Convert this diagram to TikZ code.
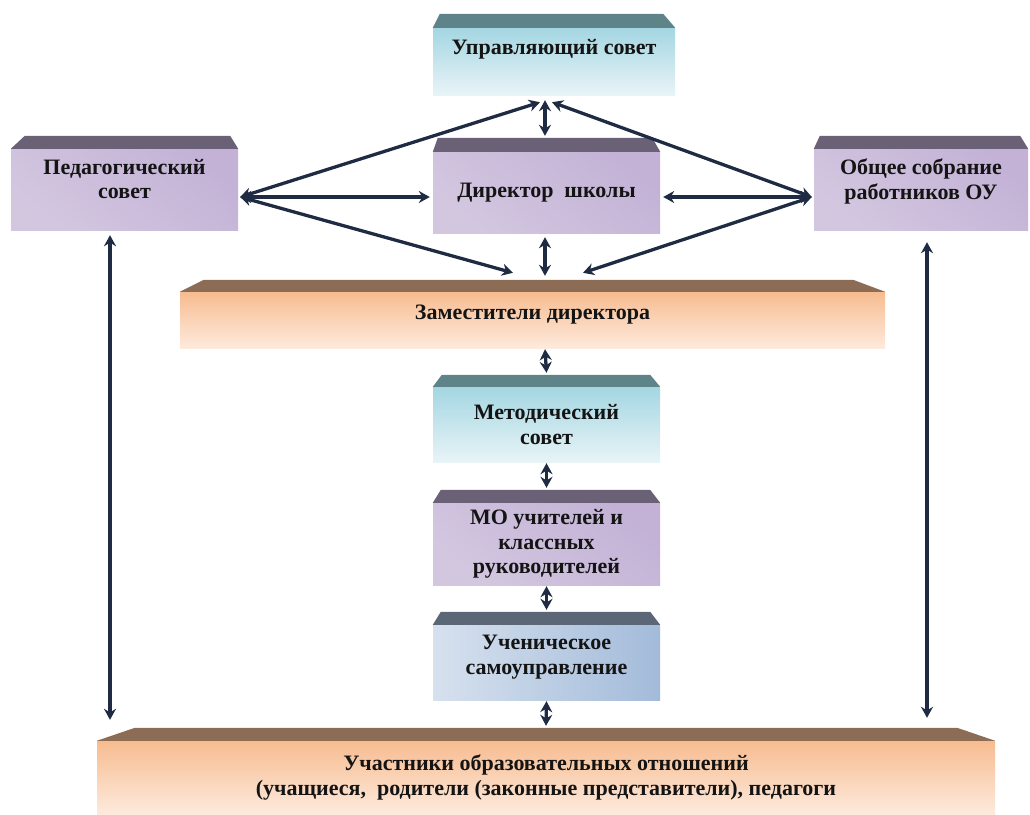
\documentclass[tikz,border=0pt]{standalone}
\usepackage{fontspec}
\setmainfont{Liberation Serif}
\usetikzlibrary{positioning, arrows.meta}

\definecolor{textdark}{HTML}{141414}
\definecolor{arrowcol}{HTML}{1E2B42}
\definecolor{tealtop}{HTML}{A4D6E2}
\definecolor{tealbot}{HTML}{E8F4F7}
\definecolor{tealedge}{HTML}{5E8489}
\definecolor{purpletop}{HTML}{C3B2D6}
\definecolor{purplemid}{HTML}{EBE6F0}
\definecolor{purplebot}{HTML}{D3C7E0}
\definecolor{purpleedge}{HTML}{6B6176}
\definecolor{peachtop}{HTML}{F7BC90}
\definecolor{peachbot}{HTML}{FDEADD}
\definecolor{peachedge}{HTML}{8D6C55}
\definecolor{bluetop}{HTML}{A3BBDA}
\definecolor{bluebot}{HTML}{D6E1EE}
\definecolor{blueedge}{HTML}{5B6777}

\begin{document}
\begin{tikzpicture}[x=1pt,y=-1pt]
        % Define styles for shapes
        \tikzstyle{box} = [minimum width=227pt, minimum height=81pt, align=center, inner sep=2pt, text=textdark, font=\fontsize{22}{24.5}\selectfont\bfseries]
        \tikzstyle{tealbox} = [box, top color=tealtop, bottom color=tealbot]
        \tikzstyle{purplebox} = [box, shading=axis, top color=purpletop, middle color=purplemid, bottom color=purplebot, shading angle=-40]
        \tikzstyle{peachbox} = [box, top color=peachtop, bottom color=peachbot]
        \tikzstyle{bluebox} = [box, left color=bluebot, right color=bluetop]
        \tikzstyle{link} = [line width=3.3pt, draw=arrowcol, >={Stealth[length=11pt,width=12pt]}, <->]
        \useasboundingbox (0,0) rectangle (1030,814);

        % Draw shapes
        \node[tealbox, minimum width=242pt, minimum height=67pt, text depth=29pt] (upr) at (554, 61.5) {Управляющий совет};
        \node[purplebox, text depth=21pt] (ped) at (124.5, 189.5) {Педагогический\\совет};
        \node[purplebox] (dir) at (546.5, 192.5) {Директор \ школы};
        \node[purplebox, minimum width=214pt, text depth=21pt] (obsh) at (921, 189.5) {Общее собрание\\работников ОУ};
        \node[peachbox, minimum width=705pt, minimum height=56pt, text depth=16pt] (zam) at (532.5, 320) {Заместители директора};
        \node[tealbox, minimum height=75pt] (metod) at (546.5, 424.5) {Методический\\совет};
        \node[purplebox, minimum height=82pt] (mo) at (546.5, 544) {МО учителей и\\классных\\руководителей};
        \node[bluebox, minimum height=75pt, text depth=15pt] (uchen) at (546.5, 662.5) {Ученическое\\самоуправление};
        \node[peachbox, minimum width=898pt, minimum height=73pt] (uch) at (546, 777.5) {Участники образовательных отношений\\(учащиеся, \ родители (законные представители), педагоги};

        % top edges of the boxes
        \fill[tealedge] (upr.north west) -- ++(7,-14) -- ([xshift=-12pt,yshift=14pt]upr.north east) -- (upr.north east) -- cycle;
        \fill[purpleedge] (ped.north west) -- ++(14,-13) -- ([xshift=-8pt,yshift=13pt]ped.north east) -- (ped.north east) -- cycle;
        \fill[purpleedge] (dir.north west) -- ++(5,-14) -- ([xshift=-8pt,yshift=14pt]dir.north east) -- (dir.north east) -- cycle;
        \fill[purpleedge] (obsh.north west) -- ++(6,-13) -- ([xshift=-8pt,yshift=13pt]obsh.north east) -- (obsh.north east) -- cycle;
        \fill[peachedge] (zam.north west) -- ++(24,-12) -- ([xshift=-32pt,yshift=12pt]zam.north east) -- (zam.north east) -- cycle;
        \fill[tealedge] (metod.north west) -- ++(9,-12) -- ([xshift=-10pt,yshift=12pt]metod.north east) -- (metod.north east) -- cycle;
        \fill[purpleedge] (mo.north west) -- ++(8,-13) -- ([xshift=-10pt,yshift=13pt]mo.north east) -- (mo.north east) -- cycle;
        \fill[blueedge] (uchen.north west) -- ++(8,-13) -- ([xshift=-10pt,yshift=13pt]uchen.north east) -- (uchen.north east) -- cycle;
        \fill[peachedge] (uch.north west) -- ++(38,-13) -- ([xshift=-38pt,yshift=13pt]uch.north east) -- (uch.north east) -- cycle;

        % Draw arrows
        \draw[link] ([xshift=-9pt,yshift=-5pt]upr.south) -- ([xshift=-1.5pt,yshift=16pt]dir.north);
        \draw[link] ([xshift=2pt,yshift=-7.5pt]ped.east) -- ([xshift=-14pt,yshift=-7pt]upr.south);
        \draw[link] ([xshift=2pt,yshift=-7.5pt]ped.east) -- ([xshift=-3pt,yshift=-4.5pt]dir.west);
        \draw[link] ([xshift=2pt,yshift=-7.5pt]ped.east) -- ([xshift=-19.5pt,yshift=19pt]zam.north);
        \draw[link] ([xshift=-2pt,yshift=-7.5pt]obsh.west) -- ([xshift=-2pt,yshift=-7pt]upr.south);
        \draw[link] ([xshift=-2pt,yshift=-7.5pt]obsh.west) -- ([xshift=3pt,yshift=-4.5pt]dir.east);
        \draw[link] ([xshift=-2pt,yshift=-7.5pt]obsh.west) -- ([xshift=50.5pt,yshift=19pt]zam.north);
        \draw[link] ([xshift=-1.5pt,yshift=-4pt]dir.south) -- ([xshift=12.5pt,yshift=16pt]zam.north);
        \draw[link] ([xshift=12.5pt,yshift=-1pt]zam.south) -- ([yshift=14pt]metod.north);
        \draw[link] ([yshift=-1pt]metod.south) -- ([yshift=15pt]mo.north);
        \draw[link] ([yshift=-1pt]mo.south) -- ([yshift=15pt]uchen.north);
        \draw[link] ([yshift=-1pt]uchen.south) -- ([yshift=15pt]uch.north);
        \draw[link] ([xshift=-14.5pt,yshift=-5pt]ped.south) -- ([xshift=-436pt,yshift=21pt]uch.north);
        \draw[link] ([xshift=6pt,yshift=-12pt]obsh.south) -- ([xshift=381pt,yshift=23pt]uch.north);
\end{tikzpicture}
\end{document}
